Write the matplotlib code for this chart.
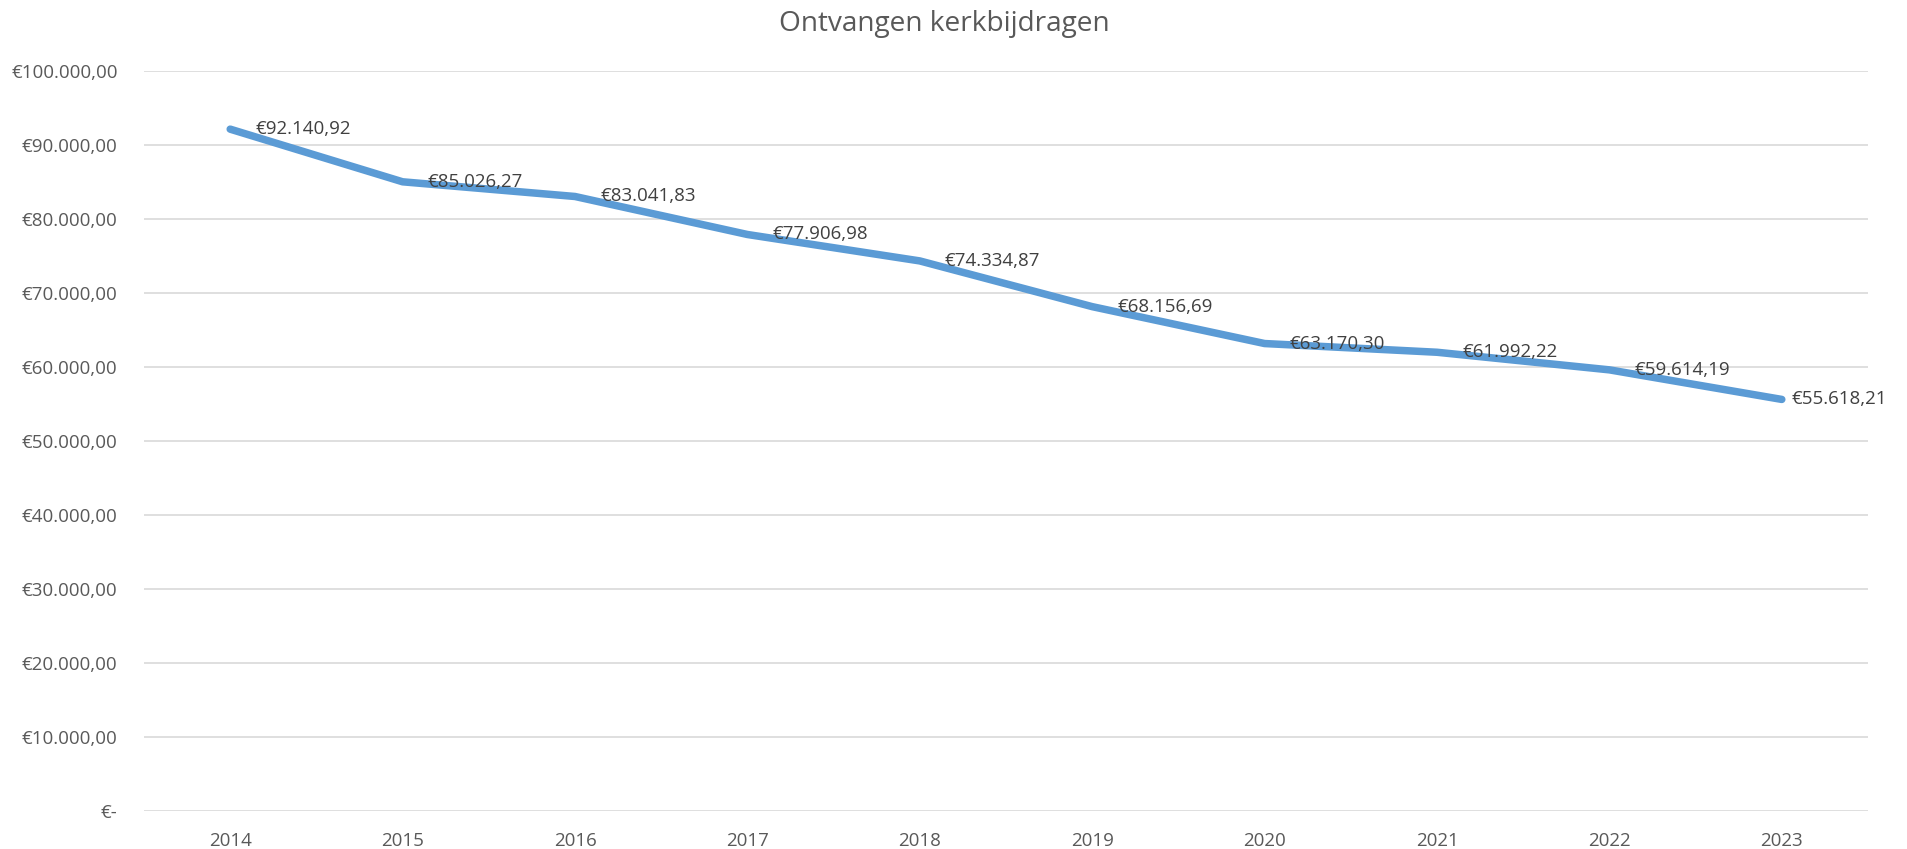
import matplotlib
matplotlib.use("Agg")
import matplotlib.pyplot as plt
from matplotlib.ticker import FuncFormatter

# Ontvangen kerkbijdragen per jaar (EUR)
years = ["2014", "2015", "2016", "2017", "2018", "2019", "2020", "2021", "2022", "2023"]
amounts = [92140.92, 85026.27, 83041.83, 77906.98, 74334.87,
           68156.69, 63170.30, 61992.22, 59614.19, 55618.21]
yticks = [0, 10000, 20000, 30000, 40000, 50000, 60000, 70000, 80000, 90000, 100000]


def euro(v, pos=None):
    if v == 0:
        return "€-"
    s = f"{v:,.2f}"
    s = s.replace(",", "X").replace(".", ",").replace("X", ".")
    return "€" + s


plt.rcParams['font.family'] = ['Open Sans', 'DejaVu Sans']

W, H = 1907, 849
fig = plt.figure(figsize=(W / 100, H / 100), dpi=100)
ax = fig.add_axes([144 / W, 38 / H, (1868 - 144) / W, (811 - 71) / H])

x = list(range(len(years)))
ax.plot(x, amounts, color='#5B9BD5', linewidth=5.4, solid_capstyle='round',
        solid_joinstyle='round', zorder=3)

labels = []
for xi, v in zip(x, amounts):
    t = ax.annotate(euro(v), (xi, v), xytext=(18, 0), textcoords='offset points',
                    ha='left', va='center', fontsize=13.5, color='#404040', zorder=4)
    labels.append(t)

ax.set_xlim(-0.5, len(years) - 0.5)
ax.set_ylim(0, 100000)
ax.set_xticks(x)
ax.set_xticklabels(years)
ax.set_yticks(yticks)
ax.yaxis.set_major_formatter(FuncFormatter(euro))

ax.grid(axis='y', color='#D9D9D9', linewidth=1.2)
ax.set_axisbelow(True)
for sp in ax.spines.values():
    sp.set_visible(False)
ax.tick_params(axis='both', length=0, labelsize=13.5, labelcolor='#595959')
ax.tick_params(axis='y', pad=19)
ax.tick_params(axis='x', pad=15)

fig.text(944 / W, 1 - 24 / H, "Ontvangen kerkbijdragen", ha='center', va='center',
         fontsize=20.2, color='#595959')

# keep data labels inside the chart area, like the spreadsheet does
fig.canvas.draw()
renderer = fig.canvas.get_renderer()
limit = W - 20
for t in labels:
    bb = t.get_window_extent(renderer)
    if bb.x1 > limit:
        dx = (bb.x1 - limit) * 72 / 100
        ox, oy = t.xyann
        t.xyann = (ox - dx, oy)

fig.savefig("out.png", dpi=100)
